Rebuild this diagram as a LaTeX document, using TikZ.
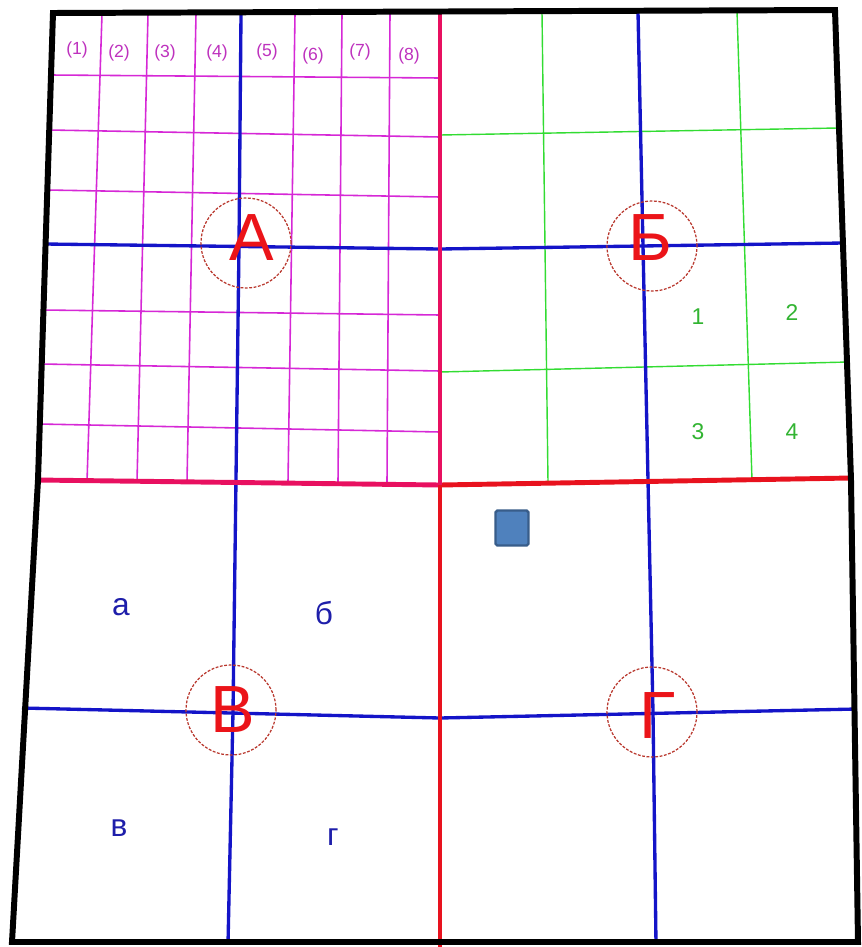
\documentclass[tikz,border=0pt]{standalone}
\usepackage{fontspec}
\setmainfont{Liberation Sans}
\usetikzlibrary{positioning}

\definecolor{gridpink}{RGB}{214,40,214}
\definecolor{gridgreen}{RGB}{50,220,50}
\definecolor{axisblue}{RGB}{20,20,200}
\definecolor{cutred}{RGB}{232,18,30}
\definecolor{cutpink}{RGB}{232,16,96}
\definecolor{ringbrown}{RGB}{185,55,45}
\definecolor{lettred}{RGB}{235,20,25}
\definecolor{labblue}{RGB}{30,30,170}
\definecolor{labgreen}{RGB}{50,180,50}
\definecolor{labpink}{RGB}{190,50,190}
\definecolor{boxfill}{RGB}{79,129,189}
\definecolor{boxdraw}{RGB}{56,93,138}

\begin{document}
\begin{tikzpicture}[x=0.02cm, y=-0.02cm]
    \tikzstyle{finegrid} = [gridpink, line width=0.9pt]
    \tikzstyle{greengrid} = [gridgreen, line width=0.8pt]
    \tikzstyle{axis} = [axisblue, line width=1.9pt]
    \tikzstyle{cut} = [cutred, line width=2.8pt]
    \tikzstyle{frame} = [black, line width=3.4pt, line join=miter]
    \tikzstyle{zonering} = [circle, draw=ringbrown, line width=0.7pt, dash pattern=on 1.6pt off 0.9pt, minimum size=1.8cm, inner sep=0]
    \tikzstyle{zoneletter} = [lettred, font=\fontsize{38pt}{38pt}\selectfont, inner sep=0]
    \tikzstyle{collabel} = [labpink, font=\fontsize{10pt}{10pt}\selectfont, inner sep=0]
    \tikzstyle{quarter} = [labgreen, font=\fontsize{13pt}{13pt}\selectfont, inner sep=0]
    \tikzstyle{plot} = [labblue, font=\fontsize{18pt}{18pt}\selectfont, inner sep=0]
    \tikzstyle{marker} = [rectangle, fill=boxfill, draw=boxdraw, line width=1.4pt, rounded corners=1pt, minimum width=0.66cm, minimum height=0.70cm]

    \fill[white] (0,0) rectangle (862,947);
    \useasboundingbox (0,0) rectangle (862,947);

    % fine grid of zone A
    \foreach \t/\b in {102/87, 148/137, 196/187, 295/288, 342/338, 390/387}
        \draw[finegrid] (\t,14) -- (\b,482);
    \foreach \xl/\yl/\yr in {51/75/78, 49/130/137, 47/190/197, 43/310/315, 41/364/371, 39/424/432}
        \draw[finegrid] (\xl,\yl) -- (440,\yr);

    % coarse grid of zone B
    \draw[greengrid] (542,12) -- (548,482);
    \draw[greengrid] (737,11) -- (752,480);
    \draw[greengrid] (440,135) -- (838,128);
    \draw[greengrid] (440,372) -- (848,362);

    % axes
    \draw[axis] (241,14) -- (239,245) -- (233,712) -- (228,944);
    \draw[axis] (638,12) -- (648,480) -- (653,712) -- (656,944);
    \draw[axis] (45,244) -- (440,249) -- (843,243);
    \draw[axis] (22,708) -- (440,718) -- (857,709);

    % cuts
    \draw[cut, cutpink] (37,480) -- (440,485);
    \draw[cut] (440,485) -- (851,478);
    \draw[cut, cutpink] (440,14) -- (440,485);
    \draw[cut] (440,485) -- (440,947);

    % outer frame
    \draw[frame] (53,13) -- (835,10) -- (851,480) -- (858,942) -- (12,942) -- (38,480) -- cycle;

    % zones
    \node[zonering] (zA) at (246,243) {};
    \node[zonering] (zB) at (652,246) {};
    \node[zonering] (zV) at (231,710) {};
    \node[zonering] (zG) at (652,712) {};
    \node[zoneletter] (lA) at (252,238) {А};
    \node[zoneletter] (lB) at (650,238) {Б};
    \node[zoneletter] (lV) at (233,710) {В};
    \node[zoneletter] (lG) at (658,716) {Г};

    % column numbers
    \foreach \i/\x/\y in {1/77/50, 2/119/53, 3/165/53, 4/217/53, 5/267/52, 6/313/56, 7/360/52, 8/409/56}
        \node[collabel] (c\i) at (\x,\y) {(\i)};

    % quarters of zone B
    \node[quarter] (q1) at (698,317) {1};
    \node[quarter] (q2) at (792,313) {2};
    \node[quarter] (q3) at (698,432) {3};
    \node[quarter] (q4) at (792,432) {4};

    % plots of zone V
    \node[plot] (pa) at (121,607) {а};
    \node[plot] (pb) at (324,613) {б};
    \node[plot] (pv) at (119,828) {в};
    \node[plot] (pg) at (333,837) {г};

    \node[marker] (mark) at (512,528) {};
\end{tikzpicture}
\end{document}
